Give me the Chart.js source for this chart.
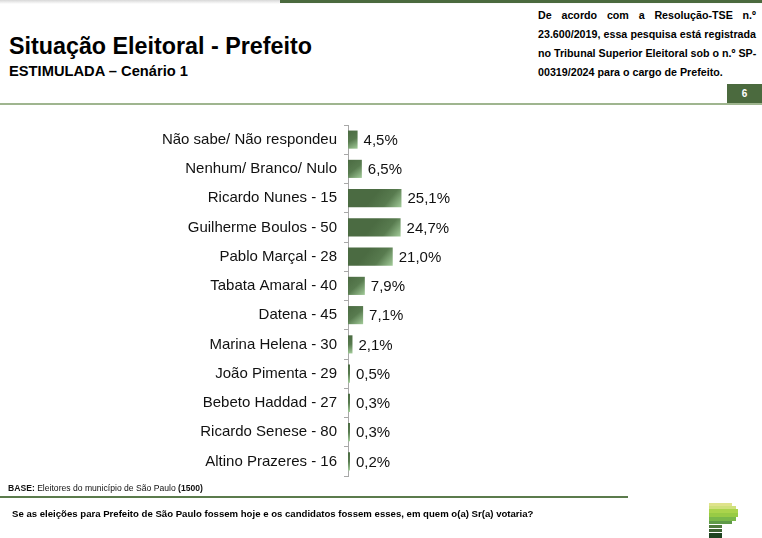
<!DOCTYPE html>
<html>
<head>
<meta charset="utf-8">
<script src="https://cdn.jsdelivr.net/npm/chart.js@4.4.1/dist/chart.umd.min.js"></script>
<style>
  html, body { margin: 0; padding: 0; background: #fff; }
  body { width: 762px; height: 538px; position: relative; overflow: hidden; font-family: 'Liberation Sans', Arial, sans-serif; color: #000; }
  .abs { position: absolute; }
  #topShade { left: 0; top: 0; width: 762px; height: 4px; background: linear-gradient(#d8d8d8, #fff); }
  #topBar { left: 280px; top: 0; width: 482px; height: 3px; background: #4b6a3e; }
  #title { left: 9px; top: 33px; font-size: 23.3px; font-weight: bold; }
  #subtitle { left: 9px; top: 63px; font-size: 14.7px; font-weight: bold; }
  #legal { left: 538px; top: 6px; width: 218px; font-size: 10.7px; font-weight: bold; line-height: 19px; }
  #legal div { text-align: justify; text-align-last: justify; white-space: nowrap; }
  #legal div.last { text-align-last: left; }
  #pageBox { left: 727px; top: 84px; width: 35px; height: 19px; background: #4b6a3e; color: #fff; font-size: 10px; font-weight: bold; text-align: center; line-height: 19px; }
  #midLine { left: 0; top: 103px; width: 762px; height: 2px; background: #9fb58f; }
  #chartWrap { left: 0; top: 109px; width: 762px; height: 383px; }
  #base { left: 8px; top: 483px; font-size: 8.6px; color: #111; }
  #baseLine { left: 0; top: 496px; width: 628px; height: 1.5px; background: #5b7b4c; }
  #question { left: 12px; top: 508px; font-size: 9.6px; font-weight: bold; }
  .logo { position: absolute; left: 709px; }
</style>
</head>
<body>
<div id="topShade" class="abs"></div>
<div id="topBar" class="abs"></div>
<div id="title" class="abs">Situação Eleitoral - Prefeito</div>
<div id="subtitle" class="abs">ESTIMULADA – Cenário 1</div>
<div id="legal" class="abs">
  <div>De acordo com a Resolução-TSE n.º</div>
  <div>23.600/2019, essa pesquisa está registrada</div>
  <div>no Tribunal Superior Eleitoral sob o n.º SP-</div>
  <div class="last">00319/2024 para o cargo de Prefeito.</div>
</div>
<div id="pageBox" class="abs">6</div>
<div id="midLine" class="abs"></div>

<div id="chartWrap" class="abs"><canvas id="votesChart"></canvas></div>

<div id="base" class="abs"><b>BASE:</b> Eleitores do município de São Paulo <b>(1500)</b></div>
<div id="baseLine" class="abs"></div>
<div id="question" class="abs">Se as eleições para Prefeito de São Paulo fossem hoje e os candidatos fossem esses, em quem o(a) Sr(a) votaria?</div>

<div class="logo" style="top:503px;width:23px;height:3px;background:#dfe38c"></div>
<div class="logo" style="top:506px;width:27px;height:3px;background:#cfe07c"></div>
<div class="logo" style="top:509px;width:29px;height:4px;background:#aad44c"></div>
<div class="logo" style="top:513px;width:29px;height:4px;background:#98cb45"></div>
<div class="logo" style="top:517px;width:27px;height:4px;background:#79b84a"></div>
<div class="logo" style="top:521px;width:23px;height:3px;background:#5f9a48"></div>
<div class="logo" style="top:525px;width:13px;height:3px;background:#4f7a3e"></div>
<div class="logo" style="top:529px;width:13px;height:3px;background:#3d6232"></div>
<div class="logo" style="top:533px;width:13px;height:5px;background:#1e4320"></div>

<script>
// --- Data ---
const categories = [
    'Não sabe/ Não respondeu',
    'Nenhum/ Branco/ Nulo',
    'Ricardo Nunes - 15',
    'Guilherme Boulos - 50',
    'Pablo Marçal - 28',
    'Tabata Amaral - 40',
    'Datena - 45',
    'Marina Helena - 30',
    'João Pimenta - 29',
    'Bebeto Haddad - 27',
    'Ricardo Senese - 80',
    'Altino Prazeres - 16'
];
const voteShares = [4.5, 6.5, 25.1, 24.7, 21.0, 7.9, 7.1, 2.1, 0.5, 0.3, 0.3, 0.2];

const FONT = "'Liberation Sans', Arial, sans-serif";
const DARK_GREEN = '#4b6b42';

// gradient that lightens towards the bottom-right end of each bar
function barFill(c) {
    const chart = c.chart;
    const xs = chart.scales.x, ys = chart.scales.y;
    if (!xs || !ys || !xs.width) return DARK_GREEN;
    const v = c.raw;
    const x0 = xs.getPixelForValue(0);
    const x1 = Math.max(x0 + 2, xs.getPixelForValue(v));
    const yc = ys.getPixelForValue(c.dataIndex);
    const g = chart.ctx.createLinearGradient(Math.max(x0, x1 - 22), yc - 9, x1, yc + 9);
    g.addColorStop(0, DARK_GREEN);
    g.addColorStop(0.5, '#587b4f');
    g.addColorStop(1, '#a2cb99');
    return g;
}

// value labels at the bar ends
const valueLabels = {
    id: 'valueLabels',
    afterDatasetsDraw(chart) {
        const ctx = chart.ctx;
        const meta = chart.getDatasetMeta(0);
        ctx.save();
        ctx.font = '15px ' + FONT;
        ctx.fillStyle = '#111';
        ctx.textAlign = 'left';
        ctx.textBaseline = 'middle';
        meta.data.forEach(function (bar, i) {
            const txt = voteShares[i].toFixed(1).replace('.', ',') + '%';
            ctx.fillText(txt, bar.x + 6, bar.y + 1);
        });
        ctx.restore();
    }
};

new Chart(document.getElementById('votesChart'), {
    type: 'bar',
    data: {
        labels: categories,
        datasets: [{
            data: voteShares,
            backgroundColor: barFill,
            borderWidth: 0,
            barPercentage: 0.62,
            categoryPercentage: 1,
            minBarLength: 2
        }]
    },
    options: {
        indexAxis: 'y',
        responsive: true,
        maintainAspectRatio: false,
        animation: false,
        layout: { padding: { right: 201, top: 0, bottom: 0 } },
        plugins: { legend: { display: false }, tooltip: { enabled: false } },
        scales: {
            x: {
                display: false,
                min: 0,
                max: 100
            },
            y: {
                afterFit: function (scale) { scale.width = 348; },
                grid: {
                    offset: true,
                    drawOnChartArea: false,
                    drawTicks: true,
                    tickLength: 4,
                    color: '#a8a8a8'
                },
                border: { color: '#a8a8a8', width: 1 },
                ticks: {
                    color: '#111',
                    padding: 7,
                    font: { family: FONT, size: 15 }
                }
            }
        }
    },
    plugins: [valueLabels]
});
</script>
</body>
</html>
